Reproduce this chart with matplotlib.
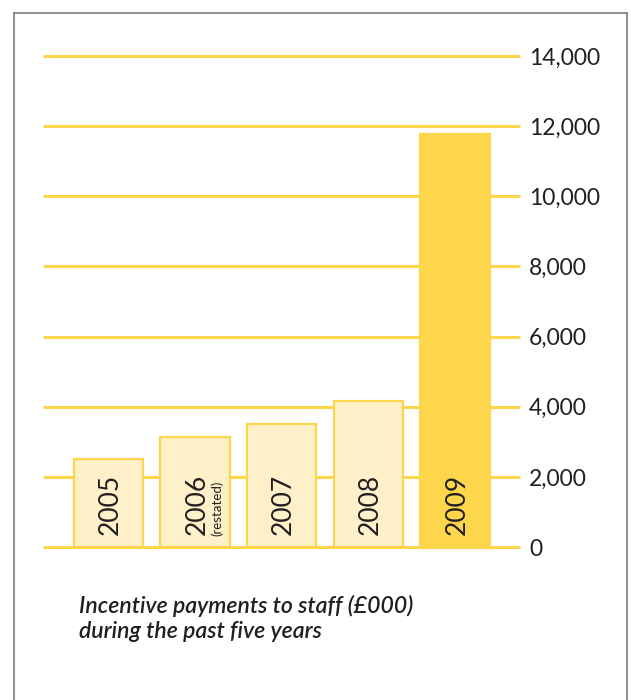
import matplotlib.pyplot as plt
from matplotlib.lines import Line2D

# incentive payments to staff, £000
years = ['2005', '2006', '2007', '2008', '2009']
payments = [2520, 3140, 3520, 4170, 11780]
ticks = [0, 2000, 4000, 6000, 8000, 10000, 12000, 14000]
caption = ['Incentive payments to staff (£000)', 'during the past five years']

gold = '#FDD64B'
cream = '#FEF0C9'
ink = '#231F20'

plt.rcParams['font.family'] = ['Lato', 'DejaVu Sans']

fig = plt.figure(figsize=(6.31, 7.0), dpi=100)
ax = fig.add_axes([43 / 631, 153 / 700, 477 / 631, 491 / 700])

x = list(range(len(years)))
ax.set_xlim(-0.753, 4.749)
ax.set_ylim(0, 14000)

# horizontal rules behind the bars
ax.hlines(ticks, -0.753, 4.749, color=gold, lw=2.2, clip_on=False, zorder=1)

colors = [cream] * 4 + [gold]
ax.bar(x, payments, width=0.8, color=colors, edgecolor=gold,
       linewidth=1.6, zorder=2)

# year labels written up the bars
for i, yr in enumerate(years):
    dx = 0.02 if yr != '2006' else 0.03
    ax.text(i + dx, 340, yr, rotation=90, ha='center', va='bottom',
            fontsize=19, color=ink, zorder=3)
ax.text(1 + 0.255, 300, '(restated)', rotation=90, ha='center', va='bottom',
        fontsize=9.5, color=ink, zorder=3)

ax.set_yticks(ticks)
ax.set_yticklabels(['{:,}'.format(t) for t in ticks])
ax.yaxis.tick_right()
ax.tick_params(axis='y', length=0, pad=6.5, labelsize=16.5, labelcolor=ink)
ax.set_xticks([])
for s in ax.spines.values():
    s.set_visible(False)

# caption, one line at a time
for k, line in enumerate(caption):
    fig.text(79 / 631, 1 - (613 + 25 * k) / 700, line, ha='left',
             va='baseline', fontsize=16.6, style='italic', weight='semibold',
             color=ink)

# thin frame round the panel, open at the bottom
frame = dict(color='#7a7a7a', lw=1.2)
fig.add_artist(Line2D([14 / 631, 14 / 631], [0, 1 - 13 / 700], **frame))
fig.add_artist(Line2D([627 / 631, 627 / 631], [0, 1 - 13 / 700], **frame))
fig.add_artist(Line2D([14 / 631, 627 / 631], [1 - 13 / 700, 1 - 13 / 700], **frame))

fig.savefig('out.png', dpi=100)
